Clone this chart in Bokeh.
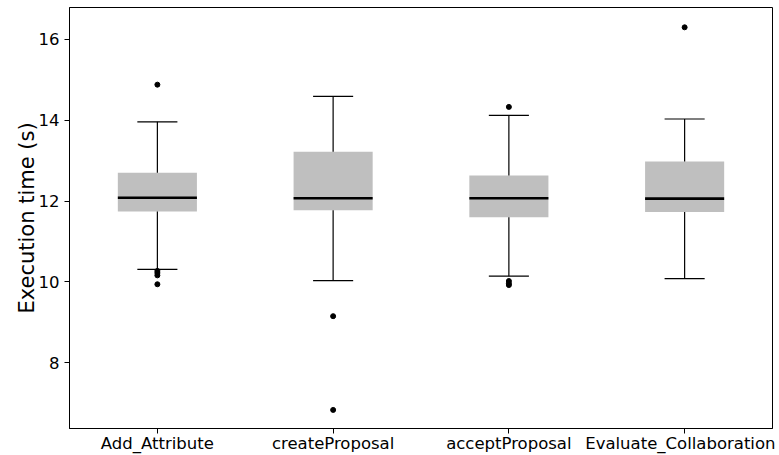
from bokeh.plotting import figure
from bokeh.models import ColumnDataSource, FactorRange, Range1d, FixedTicker
from bokeh.transform import dodge
from bokeh.embed import file_html
from bokeh.resources import INLINE

# ---- data ----
categories = ["Add_Attribute", "createProposal", "acceptProposal", "Evaluate_Collaboration"]
lower_whisker = [10.31, 10.03, 10.14, 10.08]
q1 = [11.74, 11.77, 11.60, 11.73]
median = [12.08, 12.07, 12.07, 12.06]
q3 = [12.70, 13.22, 12.63, 12.98]
upper_whisker = [13.96, 14.59, 14.12, 14.03]

outlier_cats = ["Add_Attribute"] * 5 + ["createProposal"] * 2 + ["acceptProposal"] * 4 + ["Evaluate_Collaboration"]
outlier_vals = [14.88, 10.27, 10.22, 10.16, 9.94,
                9.15, 6.83,
                14.33, 10.02, 9.96, 9.92,
                16.30]

y_ticks = [8, 10, 12, 14, 16]
y_label = "Execution time (s)"

FONT = "DejaVu Sans"

src = ColumnDataSource(dict(cat=categories, lo=lower_whisker, q1=q1, med=median, q3=q3, hi=upper_whisker))
out_src = ColumnDataSource(dict(cat=outlier_cats, val=outlier_vals))

p = figure(width=775, height=455, output_backend="svg", toolbar_location=None,
           x_range=FactorRange(factors=categories, range_padding=0),
           y_range=Range1d(6.37, 16.79),
           min_border_left=69, min_border_right=3, min_border_top=7, min_border_bottom=0)

BW = 0.45
CW = 0.114
rng = p.x_range

# boxes
p.vbar(x="cat", width=BW, bottom="q1", top="q3", source=src,
       fill_color="#bfbfbf", line_color=None)
# whiskers
p.segment(x0="cat", y0="q3", x1="cat", y1="hi", source=src, line_color="black", line_width=1.2)
p.segment(x0="cat", y0="q1", x1="cat", y1="lo", source=src, line_color="black", line_width=1.2)
# caps
p.segment(x0=dodge("cat", -CW, range=rng), y0="hi", x1=dodge("cat", CW, range=rng), y1="hi",
          source=src, line_color="black", line_width=1.2)
p.segment(x0=dodge("cat", -CW, range=rng), y0="lo", x1=dodge("cat", CW, range=rng), y1="lo",
          source=src, line_color="black", line_width=1.2)
# medians
p.segment(x0=dodge("cat", -BW / 2, range=rng), y0="med", x1=dodge("cat", BW / 2, range=rng), y1="med",
          source=src, line_color="black", line_width=2.6)
# outliers
p.scatter(x="cat", y="val", source=out_src, size=5, fill_color="black", line_color="black")

# styling
p.xgrid.visible = False
p.ygrid.visible = False
p.outline_line_color = "black"
p.outline_line_width = 1
p.outline_line_alpha = 1
p.background_fill_color = "white"
p.border_fill_color = "white"

p.yaxis.ticker = FixedTicker(ticks=y_ticks)
p.yaxis.axis_label = y_label

for ax in (p.xaxis[0], p.yaxis[0]):
    ax.axis_line_color = "black"
    ax.major_tick_line_color = "black"
    ax.major_tick_out = 5
    ax.major_tick_in = 0
    ax.minor_tick_line_color = None
    ax.major_label_text_font = FONT
    ax.major_label_text_font_size = "16.5px"
    ax.major_label_text_color = "black"

p.xaxis.major_label_standoff = 0
p.xaxis.axis_label = None
p.xaxis.axis_label_standoff = 0
p.yaxis.major_label_standoff = 5
p.yaxis.axis_label_text_font = FONT
p.yaxis.axis_label_text_font_size = "21px"
p.yaxis.axis_label_text_font_style = "normal"
p.yaxis.axis_label_text_color = "black"
p.yaxis.axis_label_standoff = -3

open("out.html", "w").write(file_html(p, INLINE))
